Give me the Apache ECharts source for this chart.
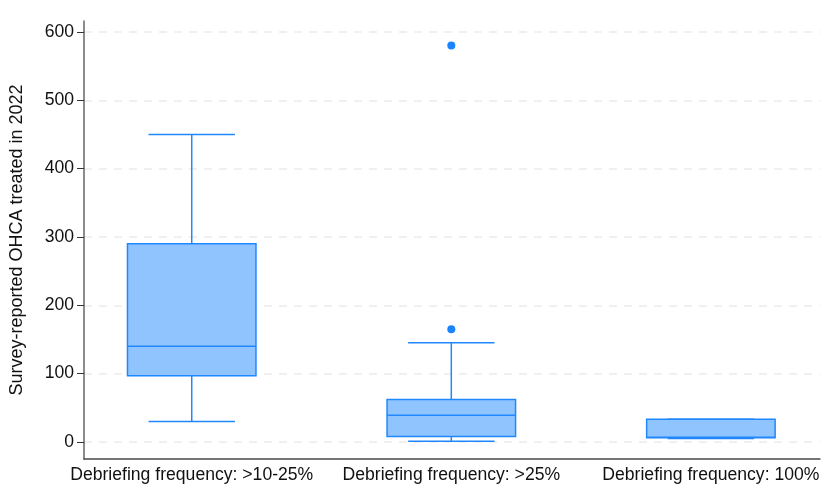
<!DOCTYPE html>
<html>
<head>
<meta charset="utf-8">
<script src="https://cdn.jsdelivr.net/npm/echarts@6/dist/echarts.min.js"></script>
<style>
html,body{margin:0;padding:0;background:#fff;}
#chart{width:822px;height:485px;}
</style>
</head>
<body>
<div id="chart"></div>
<script>
// ---- Data ----
const categories = ['Debriefing frequency: >10-25%', 'Debriefing frequency: >25%', 'Debriefing frequency: 100%'];
const boxMin    = [30, 1, 5];
const boxQ1     = [97, 8, 6];
const boxMedian = [140, 39, 7];
const boxQ3     = [290, 62, 33];
const boxMax    = [450, 145, 33];
const outlierGroup = [1, 1];          // index into categories
const outlierValue = [165, 580];
const yTicks = [0, 100, 200, 300, 400, 500, 600];
const yTitle = 'Survey-reported OHCA treated in 2022';

// ---- Styling ----
const FONT = 'Liberation Sans, Arial, sans-serif';
const FILL = '#90C4FF';
const STROKE = '#2088FF';
const BOX_W = 0.495;
const CAP_W = 0.333;

const boxData = categories.map((c, i) => [i + 1, boxMin[i], boxQ1[i], boxMedian[i], boxQ3[i], boxMax[i]]);
const outlierData = outlierGroup.map((g, i) => [g + 1, outlierValue[i]]);

const chart = echarts.init(document.getElementById('chart'), null, {renderer: 'canvas'});
chart.setOption({
  animation: false,
  backgroundColor: '#fff',
  grid: {left: 81, right: 0, top: 21, bottom: 26, containLabel: false},
  xAxis: {
    type: 'value', min: 0.585, max: 3.42,
    axisLine: {show: true, onZero: false, lineStyle: {color: '#4a4a4a', width: 1.5}},
    axisTick: {show: false},
    splitLine: {show: false},
    axisLabel: {
      customValues: categories.map((c, i) => i + 1),
      formatter: v => categories[Math.round(v) - 1] || '',
      fontFamily: FONT, fontSize: 17.6, color: '#111', margin: 7
    }
  },
  yAxis: {
    type: 'value', min: -25, max: 616,
    name: yTitle, nameLocation: 'middle', nameGap: 58, nameRotate: 90,
    nameTextStyle: {fontFamily: FONT, fontSize: 18, color: '#111'},
    axisLine: {show: true, onZero: false, lineStyle: {color: '#666', width: 1.5}},
    axisTick: {show: true, customValues: yTicks, length: 7, lineStyle: {color: '#333', width: 1}},
    axisLabel: {customValues: yTicks, fontFamily: FONT, fontSize: 17.6, color: '#111', margin: 10},
    splitLine: {show: true, lineStyle: {color: '#EBEBEB', width: 1.5, type: [8, 7]}}
  },
  series: [
    {
      type: 'custom',
      data: boxData,
      encode: {x: 0, y: [1, 2, 3, 4, 5]},
      renderItem: function (params, api) {
        const x = api.value(0);
        const half = api.size([BOX_W, 0])[0] / 2;
        const capHalf = api.size([CAP_W, 0])[0] / 2;
        const pMin = api.coord([x, api.value(1)]);
        const pQ1 = api.coord([x, api.value(2)]);
        const pMed = api.coord([x, api.value(3)]);
        const pQ3 = api.coord([x, api.value(4)]);
        const pMax = api.coord([x, api.value(5)]);
        const cx = pMed[0];
        const ls = {stroke: STROKE, lineWidth: 1.5, fill: null};
        return {
          type: 'group',
          children: [
            {type: 'line', shape: {x1: cx, y1: pQ3[1], x2: cx, y2: pMax[1]}, style: ls},
            {type: 'line', shape: {x1: cx, y1: pQ1[1], x2: cx, y2: pMin[1]}, style: ls},
            {type: 'rect', shape: {x: cx - half, y: pQ3[1], width: 2 * half, height: pQ1[1] - pQ3[1]},
             style: {fill: FILL, stroke: STROKE, lineWidth: 1.5}},
            {type: 'line', shape: {x1: cx - half, y1: pMed[1], x2: cx + half, y2: pMed[1]}, style: ls},
            {type: 'line', shape: {x1: cx - capHalf, y1: pMax[1], x2: cx + capHalf, y2: pMax[1]}, style: ls},
            {type: 'line', shape: {x1: cx - capHalf, y1: pMin[1], x2: cx + capHalf, y2: pMin[1]}, style: ls}
          ]
        };
      }
    },
    {
      type: 'scatter',
      data: outlierData,
      symbol: 'circle',
      symbolSize: 8,
      itemStyle: {color: '#1A84FF', opacity: 1}
    }
  ]
});
</script>
</body>
</html>
